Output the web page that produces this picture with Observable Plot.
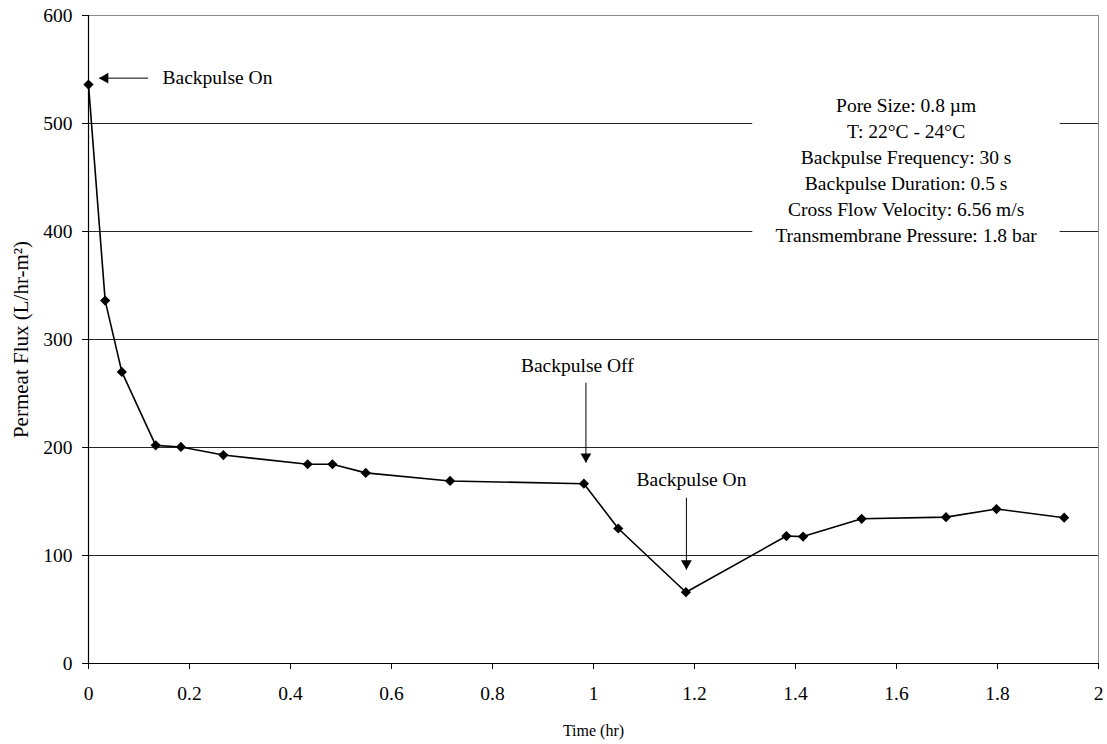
<!DOCTYPE html>
<html>
<head>
<meta charset="utf-8">
<script src="https://cdn.jsdelivr.net/npm/d3@7"></script>
<script src="https://cdn.jsdelivr.net/npm/@observablehq/plot@0.6"></script>
<style>
  body { margin: 0; background: #fff; }
  #chart svg { display: block; }
</style>
</head>
<body>
<div id="chart"></div>
<script>
// Permeate flux measured over a run with backpulsing switched off and on again
const timeHr = [0, 0.033, 0.066, 0.133, 0.183, 0.267, 0.434, 0.483, 0.549, 0.716,
                0.981, 1.049, 1.183, 1.382, 1.415, 1.531, 1.698, 1.798, 1.932];
const fluxLhm2 = [536, 336, 270, 202, 200.5, 193, 184.5, 184.5, 176.5, 169,
                  166.5, 125, 66, 118, 117.5, 134, 135.5, 143, 135];

const xTicks = [0, 0.2, 0.4, 0.6, 0.8, 1, 1.2, 1.4, 1.6, 1.8, 2];
const yTicks = [0, 100, 200, 300, 400, 500, 600];
const gridValues = [100, 200, 300, 400, 500];

const conditionLines = [
  "Pore Size: 0.8 µm",
  "T: 22°C - 24°C",
  "Backpulse Frequency: 30 s",
  "Backpulse Duration: 0.5 s",
  "Cross Flow Velocity: 6.56 m/s",
  "Transmembrane Pressure: 1.8 bar"
];

const points = timeHr.map((t, i) => ({t, flux: fluxLhm2[i]}));

// Event call-outs: label placement and arrow from tail to tip
const labels = [
  {text: "Backpulse On", x: 0.1465, y: 542, anchor: "start"},
  {text: "Backpulse Off", x: 0.968, y: 275.5, anchor: "middle"},
  {text: "Backpulse On", x: 1.194, y: 170.5, anchor: "middle"}
];
const arrows = [
  {x1: 0.118, y1: 542, x2: 0.021, y2: 542, dir: "left"},
  {x1: 0.985, y1: 260, x2: 0.985, y2: 186, dir: "down"},
  {x1: 1.184, y1: 153.5, x2: 1.184, y2: 87, dir: "down"}
];
const conditionsBox = [{x1: 1.3154, x2: 1.924, y1: 382, y2: 532}];

const serif = "'Liberation Serif', 'Times New Roman', Times, serif";

const chart = Plot.plot({
  width: 1107,
  height: 744,
  marginLeft: 88,
  marginRight: 9,
  marginTop: 15,
  marginBottom: 81,
  style: {fontFamily: serif, fontSize: "19.5px", color: "#000", background: "#fff"},
  x: {domain: [0, 2]},
  y: {domain: [0, 600]},
  marks: [
    Plot.ruleY(gridValues, {stroke: "#000", strokeWidth: 1, strokeOpacity: 0.85}),
    Plot.ruleY([600], {stroke: "#8a8a8a", strokeWidth: 1}),
    Plot.ruleX([2], {stroke: "#8a8a8a", strokeWidth: 1}),
    Plot.rect(conditionsBox, {x1: "x1", x2: "x2", y1: "y1", y2: "y2", fill: "#fff"}),
    Plot.axisX({ticks: xTicks, tickSize: 6, tickPadding: 17, tickFormat: d => String(+d.toFixed(1)), label: null}),
    Plot.axisY({ticks: yTicks, tickSize: 6, tickPadding: 10, label: null}),
    Plot.ruleX([0], {stroke: "#000", strokeWidth: 1.2}),
    Plot.ruleY([0], {stroke: "#000", strokeWidth: 1.2}),
    Plot.line(points, {x: "t", y: "flux", stroke: "#000", strokeWidth: 1.6}),
    Plot.dot(points, {x: "t", y: "flux", symbol: "diamond2", r: 4.6, fill: "#000", stroke: "none"}),
    Plot.link(arrows, {x1: "x1", y1: "y1", x2: "x2", y2: "y2", stroke: "#000", strokeWidth: 1}),
    Plot.dot(arrows.filter(a => a.dir === "down"), {x: "x2", y: "y2", symbol: "triangle", r: 4, rotate: 180, dy: -6.1, fill: "#000", stroke: "none"}),
    Plot.dot(arrows.filter(a => a.dir === "left"), {x: "x2", y: "y2", symbol: "triangle", r: 4, rotate: -90, dx: 6.1, fill: "#000", stroke: "none"}),
    Plot.text(labels.filter(d => d.anchor === "start"), {x: "x", y: "y", text: "text", textAnchor: "start", fill: "#000"}),
    Plot.text(labels.filter(d => d.anchor === "middle"), {x: "x", y: "y", text: "text", textAnchor: "middle", fill: "#000"}),
    Plot.text([conditionLines.join("\n")], {x: 1.619, y: 458, lineHeight: 1.33, textAnchor: "middle", lineAnchor: "middle", fill: "#000"}),
    Plot.text(["Permeat Flux (L/hr-m²)"], {frameAnchor: "left", dx: -67.7, rotate: -90, textAnchor: "middle", lineAnchor: "middle", fontSize: 21, fill: "#000"}),
    Plot.text(["Time (hr)"], {frameAnchor: "bottom", dy: 67.5, textAnchor: "middle", lineAnchor: "middle", fontSize: 16, fill: "#000"})
  ]
});

document.getElementById("chart").appendChild(chart);
</script>
</body>
</html>
